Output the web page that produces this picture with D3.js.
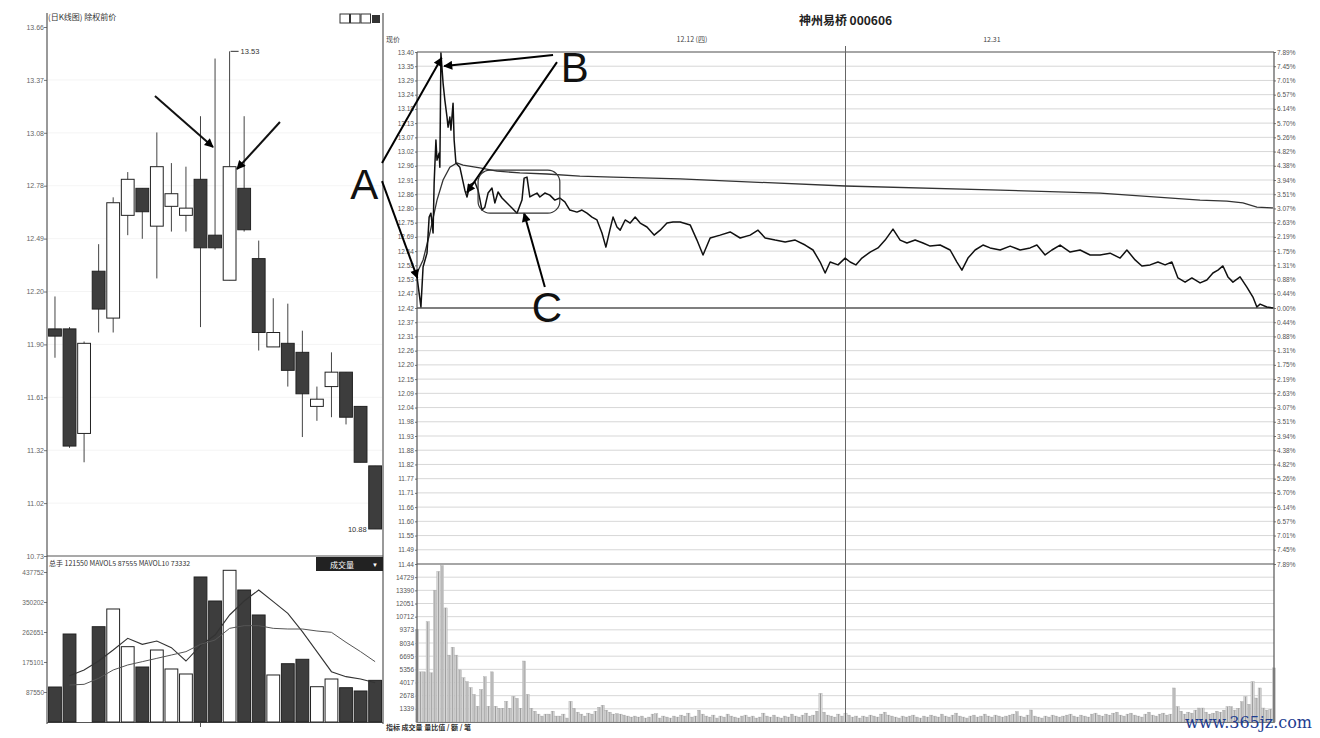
<!DOCTYPE html>
<html><head><meta charset="utf-8">
<script src="https://cdn.jsdelivr.net/npm/d3@7"></script>
<style>body{margin:0;background:#fff}svg{display:block}</style>
</head><body><svg id="c" width="1320" height="738"></svg>
<script>
// ---------------- DATA ----------------
// Left: daily candles
const candleOpen  = [11.99,11.99,11.41,12.31,12.05,12.62,12.77,12.56,12.67,12.62,12.82,12.51,12.26,12.77,12.38,11.89,11.91,11.86,11.56,11.67,11.75,11.56,11.23];
const candleHigh  = [12.17,12.00,11.92,12.46,12.72,12.86,12.77,13.08,12.91,12.89,13.17,13.49,13.53,13.17,12.48,12.16,12.13,11.98,11.67,11.86,11.75,11.56,11.23];
const candleLow   = [11.83,11.33,11.25,11.97,11.97,12.51,12.49,12.27,12.53,12.53,12.00,12.43,12.26,12.53,11.87,11.89,11.67,11.39,11.48,11.50,11.46,11.25,10.88];
const candleClose = [11.95,11.34,11.91,12.10,12.69,12.82,12.64,12.89,12.74,12.66,12.44,12.44,12.89,12.54,11.97,11.97,11.76,11.63,11.60,11.75,11.50,11.25,10.88];
const dailyVolume = [102100,256800,null,278100,329800,219800,160500,210100,154700,140100,423200,353100,442700,385200,312300,137200,170100,183000,103000,125500,100100,90500,121550];
const mavol5  = [null,135200,151800,178000,210100,244200,226700,236400,216900,178000,222800,253900,312300,353100,385200,351200,317100,263600,205300,146900,132300,125500,114800];
const mavol10 = [null,108000,109900,127400,151800,166400,176100,185800,195500,205300,226700,239300,273300,281100,281100,273300,271400,271400,265600,261700,232500,205300,176100];
const leftPriceMin = 10.73, leftPriceMax = 13.665, leftTickCount = 11;
const leftVolTicks = [87550,175101,262651,350202,437752];
const leftHeader = "(日K线图) 除权前价";
const volHeader = "总手 121550  MAVOL5 87555  MAVOL10 73332";

// Right: intraday (minutes from open, price)
const prevClose = 12.42, priceStep = 0.05444, gridSteps = 18;
const priceMinute = [0,1.1,1.7,2.8,3.4,3.9,4.5,4.8,5.3,5.6,6.2,6.4,6.7,7.3,7.8,8.4,8.7,9.2,9.5,10.1,10.4,10.9,12.0,13.4,14.0,14.8,16.2,17.1,18.2,19.0,19.9,21.0,21.8,22.7,23.8,25.2,26.6,28.0,29.4,30.0,30.8,31.6,32.5,33.6,34.4,35.8,37.2,38.6,40.0,41.4,42.8,44.8,46.2,47.6,49.0,50.4,51.8,52.9,54.0,54.9,56.0,56.9,58.3,59.7,61.1,62.5,64.4,66.4,68.1,70.0,71.7,73.7,76.5,78.4,80.1,82.1,84.9,87.7,90.5,93.3,95.5,97.5,100.3,103.1,105.9,108.7,110.9,112.9,114.3,115.7,117.9,119.9,121.3,122.9,124.6,126.9,129.1,131.1,133.3,135.3,137.2,139.5,141.7,143.7,146.5,149.3,151.2,152.6,154.3,156.3,158.5,160.5,163.3,166.1,168.9,171.7,173.6,175.9,177.8,180.1,182.9,185.7,188.5,191.3,194.1,196.9,198.8,201.1,203.0,205.3,207.5,209.5,211.4,213.1,215.1,217.0,219.3,221.2,222.9,224.3,225.7,227.1,228.5,230.5,232.4,234.1,235.2,236.1,238.0,239.7];
const priceValue  = [12.539,12.424,12.577,12.630,12.768,12.783,12.707,12.898,13.063,12.986,13.013,12.959,13.396,13.281,13.216,13.151,13.112,13.151,13.101,13.204,13.063,12.975,12.959,12.871,12.845,12.891,12.902,12.871,12.795,12.806,12.860,12.879,12.822,12.864,12.841,12.822,12.803,12.783,12.833,12.917,12.921,12.845,12.852,12.860,12.845,12.860,12.852,12.833,12.841,12.826,12.795,12.787,12.795,12.783,12.768,12.757,12.707,12.653,12.718,12.768,12.730,12.718,12.757,12.745,12.768,12.745,12.730,12.699,12.718,12.745,12.749,12.749,12.738,12.680,12.623,12.688,12.699,12.711,12.688,12.699,12.718,12.688,12.680,12.673,12.680,12.661,12.642,12.596,12.554,12.596,12.585,12.611,12.596,12.585,12.611,12.634,12.650,12.680,12.722,12.680,12.669,12.680,12.669,12.657,12.661,12.642,12.596,12.565,12.611,12.642,12.661,12.650,12.642,12.657,12.642,12.650,12.661,12.623,12.642,12.661,12.634,12.642,12.623,12.623,12.630,12.611,12.642,12.604,12.581,12.585,12.596,12.585,12.596,12.535,12.519,12.535,12.516,12.527,12.554,12.565,12.581,12.539,12.519,12.539,12.500,12.462,12.424,12.435,12.424,12.420];
const avgMinute = [0,1.7,3.6,5.6,7.3,9.2,11.2,12.9,17.6,22.4,28.8,36.4,45.6,54.9,73.7,119.9,163.3,191.3,219.3,226.8,231.3,235.2,239.7];
const avgValue  = [12.554,12.604,12.707,12.833,12.910,12.959,12.975,12.967,12.956,12.944,12.937,12.933,12.925,12.921,12.914,12.887,12.871,12.860,12.833,12.829,12.822,12.806,12.803];
const minuteVolume = [
 9400,5100,5100,10200,5000,13400,15300,15900,11600,6800,
 7600,6800,5300,4500,4100,3500,2800,1600,3300,4600,
 1600,5100,1600,1400,1400,2100,1400,2600,2400,1400,
 6200,2800,1400,1100,800,600,800,800,1100,600,
 600,800,400,2100,1400,1000,800,600,900,800,
 1100,1500,1700,1200,1000,800,850,800,700,600,
 500,600,500,600,400,500,800,850,400,600,
 500,400,600,500,700,600,900,500,600,1200,
 800,600,500,700,400,600,500,800,600,500,
 400,600,700,500,600,400,500,900,600,500,
 700,500,400,600,500,800,600,500,700,900,
 600,700,1100,2900,1000,700,600,500,800,600,
 900,700,500,600,400,600,500,700,600,500,
 800,1000,700,600,500,400,600,500,600,700,
 500,400,600,500,700,600,500,800,600,500,
 700,900,600,500,400,600,700,500,600,800,
 600,500,700,600,500,600,700,800,1050,600,
 500,700,1220,600,500,400,600,500,700,600,
 500,600,700,800,600,500,700,600,500,800,
 900,700,600,800,700,900,1000,700,600,800,
 900,700,600,500,800,1000,700,600,800,900,
 700,800,3460,1560,1100,800,1000,900,1200,1420,
 1420,1000,800,900,1100,1000,1200,1560,1560,1200,
 1400,2070,2575,1800,4100,2440,3460,1420,1200,1300,
 5500];
const volStep = 1339, volSteps = 12;
const chartTitle = "神州易桥 000606";
const dateLabels = [{t:"12.12 (四)", m:77}, {t:"12.31", m:161}];

// ---------------- DRAW ----------------
const svg = d3.select('#c');
const FONT = '"Liberation Sans", Arial, sans-serif';
const CJK = '"Noto Sans CJK SC", "Liberation Sans", sans-serif';
svg.append('rect').attr('width',1320).attr('height',738).attr('fill','#fff');

const defs = svg.append('defs');
defs.append('marker').attr('id','arr').attr('viewBox','0 0 10 10').attr('refX',9).attr('refY',5)
  .attr('markerWidth',10).attr('markerHeight',9).attr('markerUnits','userSpaceOnUse').attr('orient','auto')
  .append('path').attr('d','M0,0 L10,5 L0,10 z').attr('fill','#000');

// ===== LEFT PANEL =====
const n = candleOpen.length;
const xl = d3.scaleBand().domain(d3.range(n)).range([47.7,382.4]).paddingInner(0.12).paddingOuter(0.06);
const xc = i => xl(i) + xl.bandwidth()/2;
const xli = d3.scaleLinear().domain([0,n-1]).range([xc(0), xc(n-1)]);
const yl = d3.scaleLinear().domain([leftPriceMin,leftPriceMax]).range([556,27]);
const leftTicks = d3.range(leftTickCount).map(i => leftPriceMin + i*(leftPriceMax-leftPriceMin)/(leftTickCount-1));
const yvl = d3.scaleLinear().domain([0,437752]).range([722,572]);

const L = svg.append('g');
L.selectAll('line.g').data(leftTicks.slice(1,-1)).join('line')
  .attr('x1',48).attr('x2',382).attr('y1',d=>yl(d)).attr('y2',d=>yl(d))
  .attr('stroke','#f1f1f1').attr('stroke-width',0.8);

const axL = L.append('g').attr('transform','translate(47,0)')
  .call(d3.axisLeft(yl).tickValues(leftTicks).tickSize(3).tickFormat(d3.format('.2f')));
axL.select('.domain').remove();
axL.selectAll('text').attr('font-size',7).attr('font-family',FONT).attr('fill','#666').attr('x',-3);
axL.selectAll('line').attr('stroke','#777');

const axV = L.append('g').attr('transform','translate(47,0)')
  .call(d3.axisLeft(yvl).tickValues(leftVolTicks).tickSize(3).tickFormat(d3.format('d')));
axV.select('.domain').remove();
axV.selectAll('text').attr('font-size',6.5).attr('font-family',FONT).attr('fill','#666').attr('x',-3);
axV.selectAll('line').attr('stroke','#777');

L.append('line').attr('x1',47).attr('x2',47).attr('y1',13).attr('y2',724).attr('stroke','#555').attr('stroke-width',1.2);
L.append('line').attr('x1',383).attr('x2',383).attr('y1',13).attr('y2',724).attr('stroke','#555').attr('stroke-width',1.2);
L.append('line').attr('x1',47).attr('x2',383).attr('y1',556).attr('y2',556).attr('stroke','#555').attr('stroke-width',1.2);
L.append('line').attr('x1',47).attr('x2',383).attr('y1',722.5).attr('y2',722.5).attr('stroke','#555').attr('stroke-width',1.2);
L.append('line').attr('x1',xc(10)).attr('x2',xc(10)).attr('y1',722).attr('y2',727).attr('stroke','#555');

L.append('text').attr('x',48).attr('y',20).attr('font-size',8).attr('font-family',CJK).attr('fill','#333').text(leftHeader);
const icons = L.append('g');
[0,1,2].forEach(k => icons.append('rect').attr('x',340+k*10.5).attr('y',14).attr('width',9.5).attr('height',9).attr('fill','#fff').attr('stroke','#333').attr('stroke-width',1));
icons.append('rect').attr('x',372).attr('y',15).attr('width',8).attr('height',8).attr('fill','#333');

const isDown = i => candleClose[i] < candleOpen[i];
L.selectAll('line.wick').data(d3.range(n)).join('line').attr('class','wick')
  .attr('x1',xc).attr('x2',xc).attr('y1',i=>yl(candleHigh[i])).attr('y2',i=>yl(candleLow[i]))
  .attr('stroke','#444').attr('stroke-width',1);
L.selectAll('rect.body').data(d3.range(n)).join('rect').attr('class','body')
  .attr('x',i=>xl(i)).attr('width',xl.bandwidth())
  .attr('y',i=>yl(Math.max(candleOpen[i],candleClose[i])))
  .attr('height',i=>Math.max(1.5,Math.abs(yl(candleOpen[i])-yl(candleClose[i]))))
  .attr('fill',i=>isDown(i)?'#3d3d3d':'#fff').attr('stroke','#222').attr('stroke-width',1);

const hiIdx = d3.maxIndex(candleHigh), loIdx = d3.minIndex(candleLow);
L.append('line').attr('x1',xc(hiIdx)+1).attr('x2',xc(hiIdx)+9).attr('y1',yl(candleHigh[hiIdx])).attr('y2',yl(candleHigh[hiIdx])).attr('stroke','#333');
L.append('text').attr('x',xc(hiIdx)+11).attr('y',yl(candleHigh[hiIdx])+3).attr('font-size',7.5).attr('font-family',FONT).attr('fill','#333').text(candleHigh[hiIdx].toFixed(2));
L.append('text').attr('x',xl(loIdx)-2).attr('y',yl(candleLow[loIdx])+3).attr('text-anchor','end').attr('font-size',7.5).attr('font-family',FONT).attr('fill','#333').text(candleLow[loIdx].toFixed(2));

const leftArrows = [{i0:6.87,p0:13.282,i1:10.86,p1:12.999},{i0:15.46,p0:13.138,i1:12.51,p1:12.877}];
L.selectAll('line.la').data(leftArrows).join('line')
  .attr('x1',d=>xli(d.i0)).attr('y1',d=>yl(d.p0)).attr('x2',d=>xli(d.i1)).attr('y2',d=>yl(d.p1))
  .attr('stroke','#111').attr('stroke-width',2).attr('marker-end','url(#arr)');

L.append('text').attr('x',49).attr('y',566).attr('font-size',7).attr('font-family',CJK).attr('fill','#333').text(volHeader);
L.append('rect').attr('x',316).attr('y',557).attr('width',67).attr('height',14).attr('fill','#222');
L.append('text').attr('x',342).attr('y',567.5).attr('text-anchor','middle').attr('font-size',8).attr('font-family',CJK).attr('fill','#fff').text('成交量');
L.append('text').attr('x',375).attr('y',567).attr('text-anchor','middle').attr('font-size',6).attr('font-family',FONT).attr('fill','#fff').text('▼');

L.selectAll('rect.vb').data(d3.range(n).filter(i=>dailyVolume[i]!=null)).join('rect').attr('class','vb')
  .attr('x',i=>xl(i)).attr('width',xl.bandwidth())
  .attr('y',i=>yvl(dailyVolume[i])).attr('height',i=>722-yvl(dailyVolume[i]))
  .attr('fill',i=>isDown(i)?'#3d3d3d':'#fff').attr('stroke','#222').attr('stroke-width',1);
const maLine = d3.line().defined(d=>d!=null).x((d,i)=>xc(i)).y(d=>yvl(d));
L.append('path').attr('d',maLine(mavol5)).attr('fill','none').attr('stroke','#333').attr('stroke-width',1.1);
L.append('path').attr('d',maLine(mavol10)).attr('fill','none').attr('stroke','#555').attr('stroke-width',1);

// ===== RIGHT PANEL =====
const x0 = 417, x1 = 1274;
const xr = d3.scaleLinear().domain([0,240]).range([x0,x1]);
const yr = d3.scaleLinear().domain([prevClose-gridSteps*priceStep, prevClose+gridSteps*priceStep]).range([564,52]);
const yv = d3.scaleLinear().domain([0,volStep*volSteps]).range([722,564]);
const R = svg.append('g');

const priceTicks = d3.range(-gridSteps,gridSteps+1).map(k=>({k, v: prevClose + k*priceStep}));
R.selectAll('line.pg').data(priceTicks).join('line')
  .attr('x1',x0).attr('x2',x1).attr('y1',d=>yr(d.v)).attr('y2',d=>yr(d.v))
  .attr('stroke',d=>d.k===0?'#555':(Math.abs(d.k)===gridSteps?'#888':'#cdcdcd'))
  .attr('stroke-width',d=>d.k===0?1.6:(Math.abs(d.k)===gridSteps?1.6:0.8));
const volTicks = d3.range(1,volSteps).map(k=>k*volStep);
R.selectAll('line.vg').data(volTicks).join('line')
  .attr('x1',x0).attr('x2',x1).attr('y1',d=>yv(d)).attr('y2',d=>yv(d))
  .attr('stroke','#cdcdcd').attr('stroke-width',0.8);

const axP = R.append('g').attr('transform',`translate(${x0},0)`)
  .call(d3.axisLeft(yr).tickValues(priceTicks.map(d=>d.v)).tickSize(2).tickFormat(d3.format('.2f')));
axP.select('.domain').remove();
axP.selectAll('text').attr('font-size',6.5).attr('font-family',FONT).attr('fill','#555').attr('x',-3);
axP.selectAll('line').attr('stroke','#777');
const axPct = R.append('g').attr('transform',`translate(${x1},0)`)
  .call(d3.axisRight(yr).tickValues(priceTicks.map(d=>d.v)).tickSize(2)
    .tickFormat(v=>(Math.abs(v-prevClose)/prevClose*100).toFixed(2)+'%'));
axPct.select('.domain').remove();
axPct.selectAll('text').attr('font-size',6.5).attr('font-family',FONT).attr('fill','#555').attr('x',3);
axPct.selectAll('line').attr('stroke','#777');
const axRV = R.append('g').attr('transform',`translate(${x0},0)`)
  .call(d3.axisLeft(yv).tickValues(volTicks).tickSize(2).tickFormat(d3.format('d')));
axRV.select('.domain').remove();
axRV.selectAll('text').attr('font-size',6.5).attr('font-family',FONT).attr('fill','#555').attr('x',-3);
axRV.selectAll('line').attr('stroke','#777');

// volume bars: light fill + thin darker centre stroke
const bw = (xr(1)-xr(0))*0.9;
R.selectAll('rect.mv').data(minuteVolume).join('rect')
  .attr('x',(d,i)=>xr(i)-bw/2).attr('width',bw)
  .attr('y',d=>yv(d)).attr('height',d=>722-yv(d))
  .attr('fill','#dcdcdc').attr('stroke','#a8a8a8').attr('stroke-width',0.4);
R.selectAll('line.mvl').data(minuteVolume).join('line')
  .attr('x1',(d,i)=>xr(i)).attr('x2',(d,i)=>xr(i)).attr('y1',d=>yv(d)).attr('y2',722)
  .attr('stroke','#8a8a8a').attr('stroke-width',0.8);

R.append('line').attr('x1',x0).attr('x2',x0).attr('y1',52).attr('y2',723).attr('stroke','#555').attr('stroke-width',1.2);
R.append('line').attr('x1',x1).attr('x2',x1).attr('y1',52).attr('y2',723).attr('stroke','#555').attr('stroke-width',1.2);
R.append('line').attr('x1',xr(120)).attr('x2',xr(120)).attr('y1',46).attr('y2',723).attr('stroke','#666').attr('stroke-width',1);
R.append('line').attr('x1',x0).attr('x2',x1).attr('y1',722.5).attr('y2',722.5).attr('stroke','#777').attr('stroke-width',1);

const pts = (ms,vs) => ms.map((m,i)=>[m,vs[i]]);
const ln = d3.line().x(d=>xr(d[0])).y(d=>yr(d[1]));
R.append('path').attr('d',ln(pts(avgMinute,avgValue))).attr('fill','none').attr('stroke','#333').attr('stroke-width',1.3);
R.append('path').attr('d',ln(pts(priceMinute,priceValue))).attr('fill','none').attr('stroke','#111').attr('stroke-width',1.5).attr('stroke-linejoin','round');

R.append('text').attr('x',xr(120)).attr('y',25).attr('text-anchor','middle').attr('font-size',12).attr('font-weight','bold').attr('font-family',CJK).attr('fill','#222').text(chartTitle);
R.selectAll('text.dl').data(dateLabels).join('text').attr('x',d=>xr(d.m)).attr('y',42).attr('text-anchor','middle')
  .attr('font-size',7).attr('font-family',CJK).attr('fill','#444').text(d=>d.t);
R.append('text').attr('x',386).attr('y',42).attr('font-size',7).attr('font-family',CJK).attr('fill','#444').text('现价');
R.append('text').attr('x',386).attr('y',730).attr('font-size',7).attr('font-weight','bold').attr('font-family',CJK).attr('fill','#333').text('指标 成交量 量比值 / 额 / 笔');

const annLines = [
  {m0:-9.8,p0:12.975,m1:6.9,p1:13.378},
  {m0:-9.8,p0:12.906,m1:0.1,p1:12.535},
  {m0:38.1,p0:13.388,m1:7.6,p1:13.346},
  {m0:39.2,p0:13.361,m1:14.0,p1:12.862},
  {m0:35.8,p0:12.500,m1:30.0,p1:12.782}
];
R.selectAll('line.an').data(annLines).join('line')
  .attr('x1',d=>xr(d.m0)).attr('y1',d=>yr(d.p0)).attr('x2',d=>xr(d.m1)).attr('y2',d=>yr(d.p1))
  .attr('stroke','#000').attr('stroke-width',2).attr('marker-end','url(#arr)');
const annBox = {m0:17.1,m1:40.0,p0:12.948,p1:12.783};
R.append('rect').attr('x',xr(annBox.m0)).attr('y',yr(annBox.p0)).attr('width',xr(annBox.m1)-xr(annBox.m0)).attr('height',yr(annBox.p1)-yr(annBox.p0))
  .attr('rx',12).attr('fill','none').attr('stroke','#333').attr('stroke-width',1.2);
const annText = [{t:'A',m:-14.8,p:12.894},{t:'B',m:44.2,p:13.342},{t:'C',m:36.4,p:12.424}];
R.selectAll('text.at').data(annText).join('text')
  .attr('x',d=>xr(d.m)).attr('y',d=>yr(d.p)+15).attr('text-anchor','middle')
  .attr('font-size',42).attr('font-family',FONT).attr('fill','#111').text(d=>d.t);

svg.append('text').attr('x',1312).attr('y',728).attr('text-anchor','end').attr('font-size',16)
  .attr('font-family','"DejaVu Serif", serif').attr('fill','#1d3c8f').text('www.365jz.com');
</script></body></html>
